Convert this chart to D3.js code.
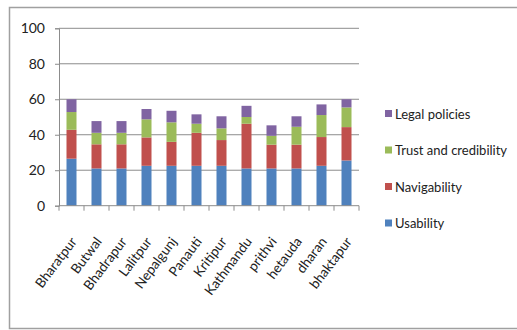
<!DOCTYPE html>
<html><head><meta charset="utf-8">
<script src="https://cdn.jsdelivr.net/npm/d3@7"></script>
<style>body{margin:0;background:#fff}svg{display:block}</style>
</head><body>
<script>
const categories = ["Bharatpur","Butwal","Bhadrapur","Lalitpur","Nepalgunj","Panauti","Kritipur","Kathmandu","prithvi","hetauda","dharan","bhaktapur"];
const seriesNames = ["Usability","Navigability","Trust and credibility","Legal policies"];
const usability = [26.5,21,21,22.5,22.5,22.5,22.5,21,21,21,22.5,25.5];
const navigability = [16.3,13.6,13.6,16,13.5,18.6,14.5,25.2,13.4,13.4,16.2,18.8];
const trust = [10,6.5,6.5,10.2,11,5.1,6.6,3.8,5,10.1,12.4,11.1];
const legal = [7.2,6.6,6.6,5.8,6.5,5.3,6.8,6.3,5.9,5.9,6,4.6];
const yTicks = [0,20,40,60,80,100];
const colors = ["#4F81BD","#C0504D","#9BBB59","#8064A2"];

(function(){
const W = 517, H = 330;
const svg = d3.select("body").append("svg").attr("width", W).attr("height", H);
svg.append("rect").attr("x",9.5).attr("y",7.5).attr("width",520).attr("height",321)
  .attr("fill","#fff").attr("stroke","#a0a0a0").attr("stroke-width",1.5);

const pL = 59, pR = 359, pT = 28.3, pB = 205.7;
const x = d3.scaleBand().domain(categories).range([pL,pR]).paddingInner(0.6).paddingOuter(0.3);
const xb = d3.scaleBand().domain(categories).range([pL,pR]);
const y = d3.scaleLinear().domain([0,100]).range([pB,pT]);

// gridlines
svg.append("g").selectAll("line").data(yTicks.filter(d=>d>0)).join("line")
  .attr("x1",pL).attr("x2",pR).attr("y1",d=>y(d)).attr("y2",d=>y(d))
  .attr("stroke","#8c8c8c").attr("stroke-width",1);

const table = categories.map((c,i)=>({cat:c, Usability:usability[i], Navigability:navigability[i], "Trust and credibility":trust[i], "Legal policies":legal[i]}));
const stack = d3.stack().keys(seriesNames)(table);
svg.append("g").selectAll("g").data(stack).join("g").attr("fill",(d,i)=>colors[i])
  .selectAll("rect").data(d=>d).join("rect")
  .attr("x",d=>x(d.data.cat)).attr("width",x.bandwidth())
  .attr("y",d=>y(d[1])).attr("height",d=>y(d[0])-y(d[1]));

// y axis
const ya = svg.append("g").attr("transform",`translate(${pL},0)`)
  .call(d3.axisLeft(y).tickValues(yTicks).tickSize(4).tickPadding(10));
ya.select(".domain").attr("stroke","#8c8c8c");
ya.selectAll(".tick line").attr("stroke","#8c8c8c");
ya.selectAll("text").attr("font-family","Lato, 'Open Sans', sans-serif").attr("font-size",14).attr("fill","#222");

// x axis
const xa = svg.append("g").attr("transform",`translate(0,${pB})`);
xa.append("line").attr("x1",pL).attr("x2",pR).attr("stroke","#8c8c8c");
xa.selectAll("line.t").data(categories.concat(["__end"])).join("line").attr("class","t")
  .attr("x1",(d,i)=>pL+i*xb.bandwidth()).attr("x2",(d,i)=>pL+i*xb.bandwidth())
  .attr("y1",0).attr("y2",5).attr("stroke","#8c8c8c");
xa.selectAll("text").data(categories).join("text")
  .attr("transform",d=>`translate(${xb(d)+xb.bandwidth()/2+6},${36}) rotate(-53)`)
  .attr("text-anchor","end").attr("font-family","Lato, 'Open Sans', sans-serif")
  .attr("font-size",13.5).attr("fill","#222").text(d=>d);

// legend
const legendOrder = [3,2,1,0];
const lg = svg.append("g");
legendOrder.forEach((si,k)=>{
  const cy = 114 + k*36.5;
  lg.append("rect").attr("x",385).attr("y",cy-4).attr("width",7).attr("height",7).attr("fill",colors[si]);
  lg.append("text").attr("x",395).attr("y",cy+4.5).attr("font-family","Lato, 'Open Sans', sans-serif")
    .attr("font-size",13).attr("fill","#222").text(seriesNames[si]);
});
})();
</script>
</body></html>
